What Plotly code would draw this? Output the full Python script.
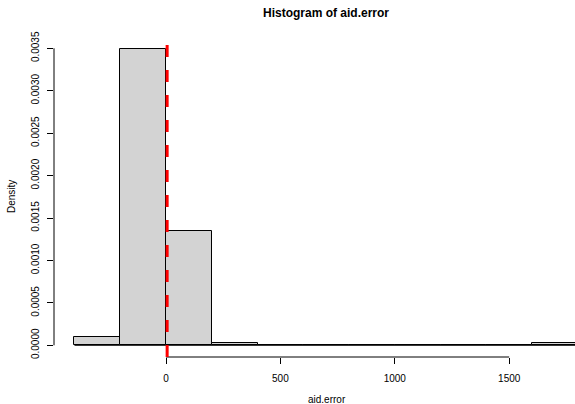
import plotly.graph_objects as go

# Histogram data (R hist of aid.error, density scale)
breaks = [-400, -200, 0, 200, 400, 600, 800, 1000, 1200, 1400, 1600, 1800]
counts = [3, 111, 43, 1, 0, 0, 0, 0, 0, 0, 1]
n_obs = sum(counts)
bin_width = 200
density = [c / (n_obs * bin_width) for c in counts]
mids = [(breaks[i] + breaks[i + 1]) / 2 for i in range(len(counts))]

vline_x = 5
x_ticks = [0, 500, 1000, 1500]
y_ticks = [0.0, 0.0005, 0.0010, 0.0015, 0.0020, 0.0025, 0.0030, 0.0035]
y_ticktext = ["0.0000", "0.0005", "0.0010", "0.0015", "0.0020", "0.0025", "0.0030", "0.0035"]

FONT = "Liberation Sans, Arial, sans-serif"
W, H = 575, 404
ML, MR, MT, MB = 54, 0, 36, 47

fig = go.Figure()
# zero line along bins (R draws zero-height rectangles)
fig.add_trace(go.Scatter(x=[breaks[0], breaks[-1]], y=[0, 0], mode="lines",
                         line=dict(color="black", width=1), hoverinfo="skip", showlegend=False))
fig.add_trace(go.Bar(x=mids, y=density, width=[bin_width] * len(mids),
                     marker=dict(color="#D3D3D3", line=dict(color="black", width=1)),
                     showlegend=False))

# axis lines spanning first to last tick (R style)
fig.add_shape(type="line", xref="x", yref="paper", x0=x_ticks[0], x1=x_ticks[-1], y0=0, y1=0,
              line=dict(color="black", width=1))
fig.add_shape(type="line", xref="paper", yref="y", x0=0, x1=0, y0=y_ticks[0], y1=y_ticks[-1],
              line=dict(color="black", width=1))
# red dashed vertical line
fig.add_shape(type="line", xref="x", yref="paper", x0=vline_x, x1=vline_x, y0=0, y1=1,
              line=dict(color="red", width=3, dash="12px,13px"))

# axis titles as annotations (pixel placement)
fig.add_annotation(text="aid.error", xref="paper", yref="paper",
                   x=(327 - ML) / (W - ML - MR), y=-(399 - (H - MB)) / (H - MT - MB),
                   xanchor="center", yanchor="middle", showarrow=False, font=dict(size=10))
fig.add_annotation(text="Density", xref="paper", yref="paper", textangle=-90,
                   x=-(ML - 12) / (W - ML - MR), y=((H - MB) - 197) / (H - MT - MB),
                   xanchor="center", yanchor="middle", showarrow=False, font=dict(size=10))

fig.update_layout(
    width=W, height=H,
    margin=dict(l=ML, r=MR, t=MT, b=MB, autoexpand=False),
    plot_bgcolor="white", paper_bgcolor="white",
    bargap=0,
    font=dict(family=FONT, size=10, color="black"),
    title=dict(text="<b>Histogram of aid.error</b>", x=326 / W, xanchor="center",
               y=1 - 13 / H, yanchor="middle", font=dict(size=12, family=FONT)),
    xaxis=dict(range=[-489.5, 1787.6], tickmode="array", tickvals=x_ticks,
               ticks="outside", ticklen=6, tickcolor="black", showgrid=False, zeroline=False,
               showline=False, ticklabelstandoff=6, automargin=False),
    yaxis=dict(range=[-0.000138, 0.003645], tickmode="array", tickvals=y_ticks, ticktext=y_ticktext,
               tickangle=-90, ticks="outside", ticklen=6, tickcolor="black", showgrid=False,
               zeroline=False, showline=False, ticklabelstandoff=4, automargin=False),
)

fig.write_html("out.html", config={"displayModeBar": False},
               post_script="document.body.style.margin='0';document.body.style.overflow='hidden';")
